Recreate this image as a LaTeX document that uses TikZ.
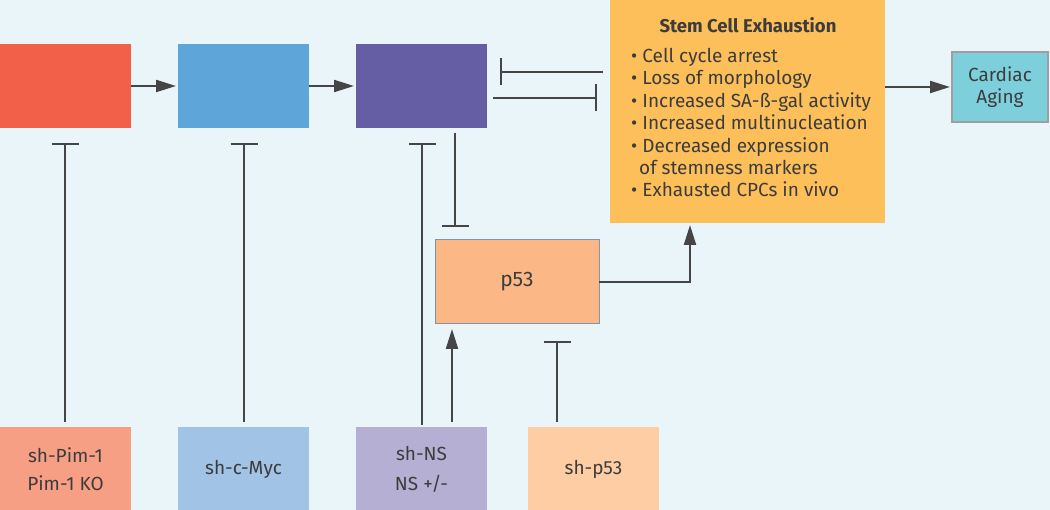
\documentclass[tikz,border=0pt]{standalone}
\usepackage{fontspec}
\setmainfont{Fira Sans}
\usetikzlibrary{arrows.meta}
\definecolor{bg}{HTML}{EAF5FA}
\definecolor{cRed}{HTML}{F2604A}
\definecolor{cBlue}{HTML}{5EA5DA}
\definecolor{cPurple}{HTML}{655EA4}
\definecolor{cStem}{HTML}{FDBF5A}
\definecolor{cCard}{HTML}{7ECFDC}
\definecolor{cP53}{HTML}{FBB785}
\definecolor{cRedL}{HTML}{F79F85}
\definecolor{cBlueL}{HTML}{A0C3E6}
\definecolor{cPurpleL}{HTML}{B5B0D3}
\definecolor{cOrL}{HTML}{FECDA4}
\definecolor{ink}{HTML}{454545}
\definecolor{txt}{HTML}{3C3C3C}
\definecolor{pborder}{HTML}{7F95AE}
\tikzset{
  box/.style={inner sep=0pt, outer sep=0pt, minimum width=131pt, minimum height=84pt, text=txt, align=center, font=\fontsize{19}{27}\selectfont},
  conn/.style={draw=ink, line width=2.2pt},
  act/.style={conn, -{Triangle[length=20pt,width=12pt]}, shorten >=2pt},
  inh/.style={conn, -{Bar[width=27pt,line width=2.2pt]}},
}
\begin{document}
\begin{tikzpicture}[x=1pt,y=-1pt]
\fill[bg] (0,0) rectangle (1050,510);
\useasboundingbox (0,0) rectangle (1050,510);
% top row
\node[box, fill=cRed] (red) at (65.5,86) {};
\node[box, fill=cBlue] (blue) at (243.5,86) {};
\node[box, fill=cPurple] (purple) at (421.5,86) {};
\node[box, fill=cStem, minimum width=275pt, minimum height=223pt] (stem) at (747.5,111.5) {};
\node[anchor=north, text=txt, font=\bfseries\fontsize{18.5}{22}\selectfont] (title) at (748,14) {Stem Cell Exhaustion};
\node[anchor=north west, inner sep=0pt, text=txt, align=left, font=\fontsize{19}{22.4}\selectfont] (list) at (631,48)
 {• Cell cycle arrest\\
  • Loss of morphology\\
  • Increased SA-ß-gal activity\\
  • Increased multinucleation\\
  • Decreased expression\\
  \hspace*{8pt}of stemness markers\\
  • Exhausted CPCs in vivo};
\node[box, fill=cCard, draw=gray!75, line width=1.3pt, minimum width=96pt, minimum height=70pt, font=\fontsize{19}{22}\selectfont] (card) at (1000,87) {Cardiac\\Aging};
\node[box, fill=cP53, draw=pborder, line width=1pt, minimum width=164pt, minimum height=84pt, font=\fontsize{21}{25}\selectfont] (p53) at (517,282) {p53};
% bottom row
\node[box, fill=cRedL, font=\fontsize{19}{28}\selectfont] (shpim) at (65.5,469) {sh-Pim-1\\Pim-1 KO};
\node[box, fill=cBlueL] (shmyc) at (243.5,469) {sh-c-Myc};
\node[box, fill=cPurpleL, font=\fontsize{19}{30}\selectfont] (shns) at (421.5,469) {sh-NS\\NS +/-};
\node[box, fill=cOrL] (shp53) at (593.5,469) {sh-p53};
% coordinates
\coordinate (i1) at (65,143);
\coordinate (i2) at (244,143);
\coordinate (i3) at (422,143);
\coordinate (pa) at (455,133);
\coordinate (pb) at (455,227);
\coordinate (sa) at (603,72);
\coordinate (sb) at (500,72);
\coordinate (qa) at (493,98);
\coordinate (qb) at (597,98);
\coordinate (ta) at (557,422);
\coordinate (tb) at (557,341);
\coordinate (na) at (452,422);
\coordinate (nb) at (452,327);
\coordinate (corner) at (690,282);
% connectors
\draw[act] (red.east) -- (blue.west);
\draw[act] (blue.east) -- (purple.west);
\draw[act] (stem.east |- 0,87) -- (card.west |- 0,87);
\draw[inh] (sa) -- (sb);
\draw[inh] (qa) -- (qb);
\draw[inh] (65,422) -- (i1);
\draw[inh] (244,422) -- (i2);
\draw[inh] (422,425) -- (i3);
\draw[inh] (pa) -- (pb);
\draw[inh] (ta) -- (tb);
\draw[act] (na) -- (nb);
\draw[act] (p53.east) -- (corner) -- (stem.south -| corner);
\end{tikzpicture}
\end{document}
